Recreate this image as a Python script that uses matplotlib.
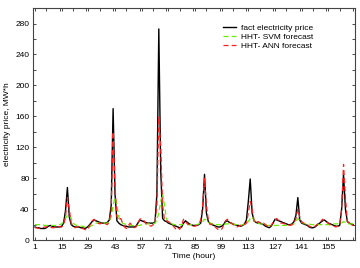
import matplotlib.pyplot as plt
from matplotlib.ticker import MultipleLocator

plt.rcParams['font.family'] = ['Liberation Sans', 'DejaVu Sans']

# hourly prices, one week (hours 1..168)
fact = [17, 16, 16, 15, 15, 15, 16, 18, 19, 18,
        17, 17, 17, 17, 18, 22, 38,
        68,
        30, 20, 18, 17, 17, 17, 16, 16, 15, 16,
        18, 21, 24, 26, 25, 24, 23, 22, 22, 22, 23, 26,
        45, 170, 60, 25, 22, 20, 19, 18, 18, 17,
        17, 17, 17, 18, 22, 26, 25, 24, 23, 22, 22, 22, 22, 23, 60,
        273,
        90, 28, 25, 24, 22, 21, 20, 19, 18, 17, 16, 17, 22, 25,
        23, 21, 20, 19, 19, 19, 20, 22, 40,
        85, 35,
        24, 21, 20, 19, 18, 17, 17, 18, 20,
        24, 25, 23, 22, 21, 20, 19, 19, 18, 19,
        21, 26, 50, 79, 35, 25, 23, 22, 22, 21,
        20, 18, 17, 16, 18, 22, 27, 26, 25, 24,
        23, 22, 21, 20, 20, 21, 24, 32, 55, 26,
        22, 21, 20, 19, 17, 16, 16, 17, 19, 21,
        23, 25, 26, 24, 22, 21, 20, 19, 18, 18,
        19, 40, 85, 40, 24, 22, 21, 20]

svm = [20, 20, 20, 20, 20, 19, 19, 19, 19, 19,
       19, 19, 19, 20, 21, 24, 28,
       32, 33, 28, 22, 20, 19, 19, 18, 18, 17, 17,
       17, 18, 19, 21, 22, 22, 22, 22, 22, 22, 22, 24,
       30, 45, 55, 45, 30, 24, 22, 21, 20, 19,
       19, 19, 19, 19, 19, 19, 20, 21, 21, 21, 21, 21, 21, 22, 26,
       35,
       50, 60, 45, 28, 23, 22, 21, 20, 20, 20, 20, 20, 20, 20,
       20, 20, 20, 20, 20, 20, 21, 22, 24,
       27, 26,
       23, 22, 21, 21, 20, 20, 20, 20, 20,
       21, 21, 21, 21, 21, 20, 20, 19, 19, 20,
       21, 22, 24, 28, 30, 26, 23, 22, 21, 21,
       20, 20, 19, 19, 19, 19, 19, 19, 19, 19,
       19, 19, 19, 19, 19, 20, 21, 24, 28, 26,
       23, 22, 21, 21, 21, 20, 20, 20, 20, 20,
       20, 20, 20, 20, 20, 20, 21, 21, 21, 21,
       21, 22, 24, 23, 21, 21, 21, 21]

ann = [16, 16, 15, 15, 16, 17, 17, 18, 17, 16,
       16, 17, 18, 17, 17, 20, 30,
       55,
       40, 22, 18, 16, 17, 18, 16, 15, 14, 13,
       15, 20, 25, 27, 24, 22, 21, 22, 23, 21, 20, 24,
       38, 140, 70, 30, 26, 28, 22, 17, 15, 19,
       22, 18, 16, 17, 21, 27, 28, 26, 22, 20, 19, 18, 20, 22, 45,
       160,
       120, 45, 26, 25, 24, 22, 20, 17, 14, 16, 14, 20, 27, 24,
       21, 20, 19, 18, 18, 19, 21, 26, 45,
       80, 45,
       26, 20, 21, 19, 16, 14, 13, 14, 19,
       25, 27, 24, 22, 20, 19, 17, 18, 19, 21,
       20, 22, 35, 50, 40, 25, 22, 24, 23, 21,
       22, 20, 18, 17, 19, 23, 26, 28, 25, 22,
       22, 21, 20, 20, 19, 20, 22, 28, 40, 30,
       24, 22, 21, 20, 18, 17, 16, 18, 20, 22,
       24, 27, 25, 23, 22, 20, 19, 18, 17, 18,
       20, 40, 98, 55, 25, 21, 20, 19]

hours = list(range(1, len(fact) + 1))
xticks = [1, 15, 29, 43, 57, 71, 85, 99, 113, 127, 141, 155]

fig = plt.figure(figsize=(3.6, 2.68), dpi=100)
ax = fig.add_axes([0.092, 0.104, 0.894, 0.866])

ax.plot(hours, fact, color='black', lw=1.0, label='fact electricity price')
ax.plot(hours, svm, color='#66ee00', lw=0.9, ls=(0, (4, 2.5)), label='HHT- SVM forecast')
ax.plot(hours, ann, color='#ff2020', lw=0.9, ls=(0, (4, 2.5)), label='HHT- ANN forecast')

ax.set_xlim(0, 169)
ax.set_ylim(0, 300)
ax.set_xticks(xticks)
ax.xaxis.set_minor_locator(MultipleLocator(7))
ax.set_yticks(range(0, 281, 40))
ax.yaxis.set_minor_locator(MultipleLocator(20))
ax.tick_params(which='both', direction='in', top=True, right=True, labelsize=6, pad=2.5)
ax.tick_params(which='major', length=2.5, width=0.5)
ax.tick_params(which='minor', length=2, width=0.5)
for s in ax.spines.values():
    s.set_linewidth(0.8)
    s.set_color('#444444')

ax.set_xlabel('Time (hour)', fontsize=6, labelpad=2)
ax.set_ylabel('electricity price, MW*h', fontsize=6, labelpad=3)
ax.legend(loc='upper right', bbox_to_anchor=(0.89, 0.96), frameon=False, fontsize=6,
          handlelength=1.6, handletextpad=0.5, labelspacing=0.15, borderpad=0.3)

fig.savefig('out.png', dpi=100)
